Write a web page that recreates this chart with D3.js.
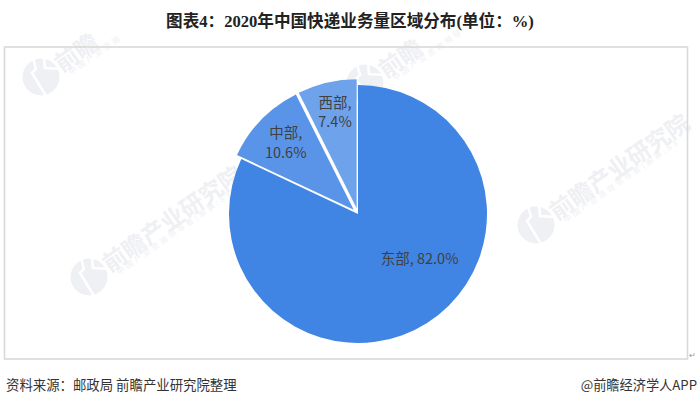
<!DOCTYPE html>
<html>
<head>
<meta charset="utf-8">
<script src="https://cdn.jsdelivr.net/npm/d3@7"></script>
<style>
html,body{margin:0;padding:0;background:#fff;}
svg{display:block;}
</style>
</head>
<body>
<svg id="chart" width="700" height="406"></svg>
<script>
var regions = ["东部", "中部", "西部"];
var shares = [82.0, 10.6, 7.4];
var colors = ["#4085e3", "#5a94e8", "#6ea3ec"];
var titleText = "图表4：2020年中国快递业务量区域分布(单位：%)";
var sourceText = "资料来源：邮政局 前瞻产业研究院整理";
var brandText = "@前瞻经济学人APP";

var sansCn = "'Noto Sans CJK SC','Noto Sans',sans-serif";
var svg = d3.select("#chart");
var wmColor = "#eff0f4";

// watermark: logo + rotated name, the top two only show the first characters
function addWatermark(x, y, name, sub) {
    var g = svg.append("g").attr("transform", "translate(" + x + "," + y + ")");
    g.append("circle").attr("r", 18.5).attr("fill", wmColor);
    g.append("path")
        .attr("d", "M-8,-19L-5,-8L-9,-4L5,19M3,-20L4,-9L20,-8")
        .attr("fill", "none").attr("stroke", "#fff").attr("stroke-width", 2.5);
    g.append("text")
        .attr("transform", "translate(21,-4) rotate(-35)")
        .attr("font-family", sansCn)
        .attr("font-size", 23.5)
        .attr("font-weight", 700)
        .attr("fill", wmColor)
        .text(name);
    g.append("text")
        .attr("transform", "translate(30,-2) rotate(-35)")
        .attr("font-family", sansCn)
        .attr("font-size", 8)
        .attr("letter-spacing", 2.5)
        .attr("fill", wmColor)
        .text(sub);
}
addWatermark(41, 77, "前瞻", "中国产业咨询");
addWatermark(365, 83, "前瞻", "中国产业咨询领导");
addWatermark(89, 277, "前瞻产业研究院", "中国产业咨询领导者(股票:839597)");
addWatermark(536, 225, "前瞻产业研究院", "中国产业咨询领导者(股票:83");

svg.append("rect")
    .attr("x", 4.5).attr("y", 47)
    .attr("width", 683).attr("height", 312)
    .attr("fill", "none")
    .attr("stroke", "#d9d9d9")
    .attr("stroke-width", 1.6);

svg.append("text")
    .attr("x", 350).attr("y", 27)
    .attr("text-anchor", "middle")
    .attr("font-family", "'Liberation Serif','Noto Sans CJK SC',serif")
    .attr("font-size", 16.6)
    .attr("font-weight", 700)
    .attr("fill", "#222")
    .text(titleText);

// pie
var cx = 358, cy = 214, radius = 129, explode = 6;
var pie = d3.pie().sort(null)(shares);
var arc = d3.arc().innerRadius(0).outerRadius(radius);
var labelArc = d3.arc().innerRadius(radius * 0.66).outerRadius(radius * 0.66);
var labelShift = [[16, -27], [-7, -7], [-2, -12.5]];

var slices = svg.append("g")
    .attr("transform", "translate(" + cx + "," + cy + ")")
    .selectAll("g")
    .data(pie)
    .join("g")
    .attr("transform", function (d, i) {
        if (i == 0) return null;
        var mid = (d.startAngle + d.endAngle) / 2;
        return "translate(" + (Math.sin(mid) * explode) + "," + (-Math.cos(mid) * explode) + ")";
    });

slices.append("path")
    .attr("d", arc)
    .attr("fill", function (d, i) { return colors[i]; });

slices.each(function (d, i) {
    var c = labelArc.centroid(d);
    var x = c[0] + labelShift[i][0], y = c[1] + labelShift[i][1];
    var t = d3.select(this).append("text")
        .attr("font-family", sansCn)
        .attr("font-size", 14.5)
        .attr("fill", "#404040")
        .attr("text-anchor", "middle");
    if (i == 0) {
        t.attr("x", x).attr("y", y + 5)
            .text(regions[i] + ", " + shares[i].toFixed(1) + "%");
    } else {
        t.append("tspan").attr("x", x).attr("y", y - 5).text(regions[i] + ",");
        t.append("tspan").attr("x", x).attr("y", y + 14.5).text(shares[i].toFixed(1) + "%");
    }
});

svg.append("text")
    .attr("x", 689).attr("y", 358)
    .attr("font-family", sansCn).attr("font-size", 8).attr("fill", "#999")
    .text("↵");

svg.append("text")
    .attr("x", 6).attr("y", 390)
    .attr("font-family", sansCn).attr("font-size", 13.4).attr("fill", "#333")
    .text(sourceText);

svg.append("text")
    .attr("x", 697).attr("y", 390)
    .attr("text-anchor", "end")
    .attr("font-family", sansCn).attr("font-size", 13.2).attr("fill", "#333")
    .text(brandText);
</script>
</body>
</html>
